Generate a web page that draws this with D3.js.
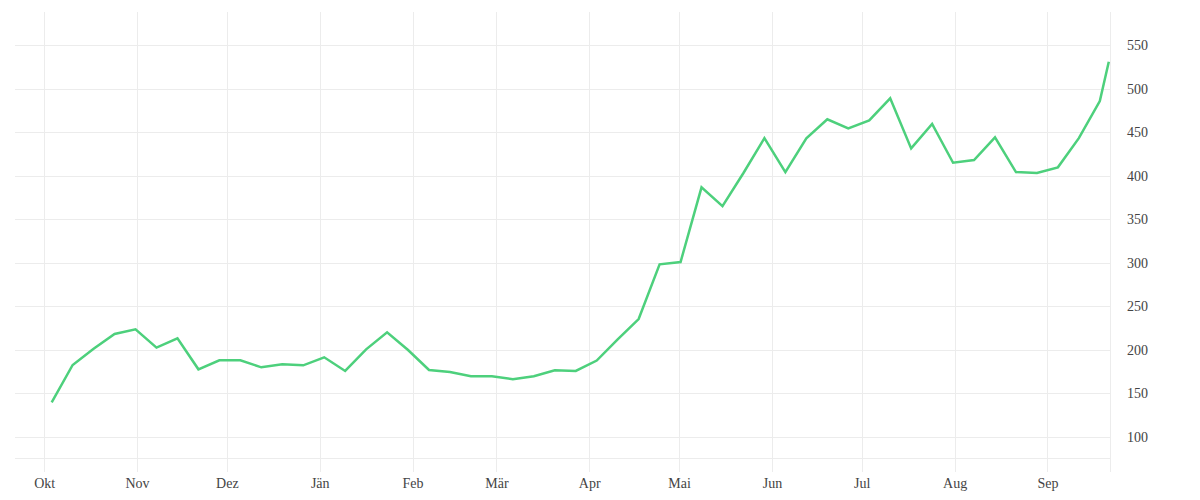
<!DOCTYPE html>
<html>
<head>
<meta charset="utf-8">
<script src="https://cdn.jsdelivr.net/npm/d3@7"></script>
<style>
  body { margin: 0; background: #fff; }
  svg { display: block; }
  .tick-label { font-family: "Liberation Serif", serif; font-size: 14px; fill: #444; }
</style>
</head>
<body>
<svg width="1200" height="500"></svg>
<script>
// weekly readings (taken at midday), last one is a partial week
var dates = [
  "2020-10-03","2020-10-10","2020-10-17","2020-10-24","2020-10-31",
  "2020-11-07","2020-11-14","2020-11-21","2020-11-28",
  "2020-12-05","2020-12-12","2020-12-19","2020-12-26",
  "2021-01-02","2021-01-09","2021-01-16","2021-01-23","2021-01-30",
  "2021-02-06","2021-02-13","2021-02-20","2021-02-27",
  "2021-03-06","2021-03-13","2021-03-20","2021-03-27",
  "2021-04-03","2021-04-10","2021-04-17","2021-04-24",
  "2021-05-01","2021-05-08","2021-05-15","2021-05-22","2021-05-29",
  "2021-06-05","2021-06-12","2021-06-19","2021-06-26",
  "2021-07-03","2021-07-10","2021-07-17","2021-07-24","2021-07-31",
  "2021-08-07","2021-08-14","2021-08-21","2021-08-28",
  "2021-09-04","2021-09-11","2021-09-18","2021-09-21"
];

var values = [
  139.5, 182.4, 201, 218, 223.4,
  202.3, 213, 177.4, 187.8,
  187.8, 179.7, 183.2, 182,
  191.2, 175.5, 200.4, 220, 199.6,
  176.6, 174.3, 169.4, 169.4,
  166, 169.4, 176.3, 175.5,
  187.5, 211.7, 235.2, 298,
  300.7, 386.5, 365, 403, 443,
  404.1, 442.8, 464.7, 454.3,
  463.5, 488.8, 431.3, 459.3, 414.8,
  417.9, 444, 404.1, 403,
  409.5, 443, 485.7, 530.8
];

var monthLabels = ["Jän","Feb","Mär","Apr","Mai","Jun","Jul","Aug","Sep","Okt","Nov","Dez"];
var yTicks = [100, 150, 200, 250, 300, 350, 400, 450, 500, 550];

var parse = d3.timeParse("%Y-%m-%d %H");
var data = dates.map(function(d, i) { return { date: parse(d + " 12"), value: values[i] }; });

var plotLeft = 15, plotRight = 1110.3, plotTop = 12, plotBottom = 458;

var x = d3.scaleTime()
  .domain([new Date(2020, 8, 21, 6), new Date(2021, 8, 22)])
  .range([plotLeft, plotRight]);

var y = d3.scaleLinear()
  .domain([75.5, 588])
  .range([plotBottom, plotTop]);

var svg = d3.select("svg");
var grid = "#ececec";

var monthTicks = x.ticks(d3.timeMonth.every(1));

// vertical grid
svg.append("g")
  .selectAll("line")
  .data(monthTicks)
  .enter()
  .append("line")
  .attr("x1", function(d) { return Math.round(x(d)) + 0.5; })
  .attr("x2", function(d) { return Math.round(x(d)) + 0.5; })
  .attr("y1", plotTop)
  .attr("y2", 472)
  .style("stroke", grid);

svg.append("line")
  .attr("x1", Math.round(plotRight) + 0.5).attr("x2", Math.round(plotRight) + 0.5)
  .attr("y1", plotTop).attr("y2", 472)
  .style("stroke", grid);

// horizontal grid
svg.append("g")
  .selectAll("line")
  .data(yTicks)
  .enter()
  .append("line")
  .attr("x1", plotLeft)
  .attr("x2", plotRight)
  .attr("y1", function(d) { return Math.round(y(d)) + 0.5; })
  .attr("y2", function(d) { return Math.round(y(d)) + 0.5; })
  .style("stroke", grid);

svg.append("line")
  .attr("x1", plotLeft).attr("x2", plotRight)
  .attr("y1", plotBottom + 0.5).attr("y2", plotBottom + 0.5)
  .style("stroke", grid);

// axes (labels only)
var xAxis = d3.axisBottom(x)
  .tickValues(monthTicks)
  .tickSize(0)
  .tickPadding(0)
  .tickFormat(function(d) { return monthLabels[d.getMonth()]; });

var gx = svg.append("g")
  .attr("transform", "translate(0,478)")
  .call(xAxis);
gx.select(".domain").remove();
gx.selectAll("text").attr("class", "tick-label").attr("dy", "0.71em");

var yAxis = d3.axisRight(y)
  .tickValues(yTicks)
  .tickSize(0)
  .tickPadding(0);

var gy = svg.append("g")
  .attr("transform", "translate(1127,0)")
  .call(yAxis);
gy.select(".domain").remove();
gy.selectAll("text").attr("class", "tick-label");

// the line
var line = d3.line()
  .x(function(d) { return x(d.date); })
  .y(function(d) { return y(d.value); });

svg.append("path")
  .datum(data)
  .attr("d", line)
  .style("fill", "none")
  .style("stroke", "#4dd07c")
  .style("stroke-width", 2.5)
  .style("stroke-linejoin", "miter");
</script>
</body>
</html>
